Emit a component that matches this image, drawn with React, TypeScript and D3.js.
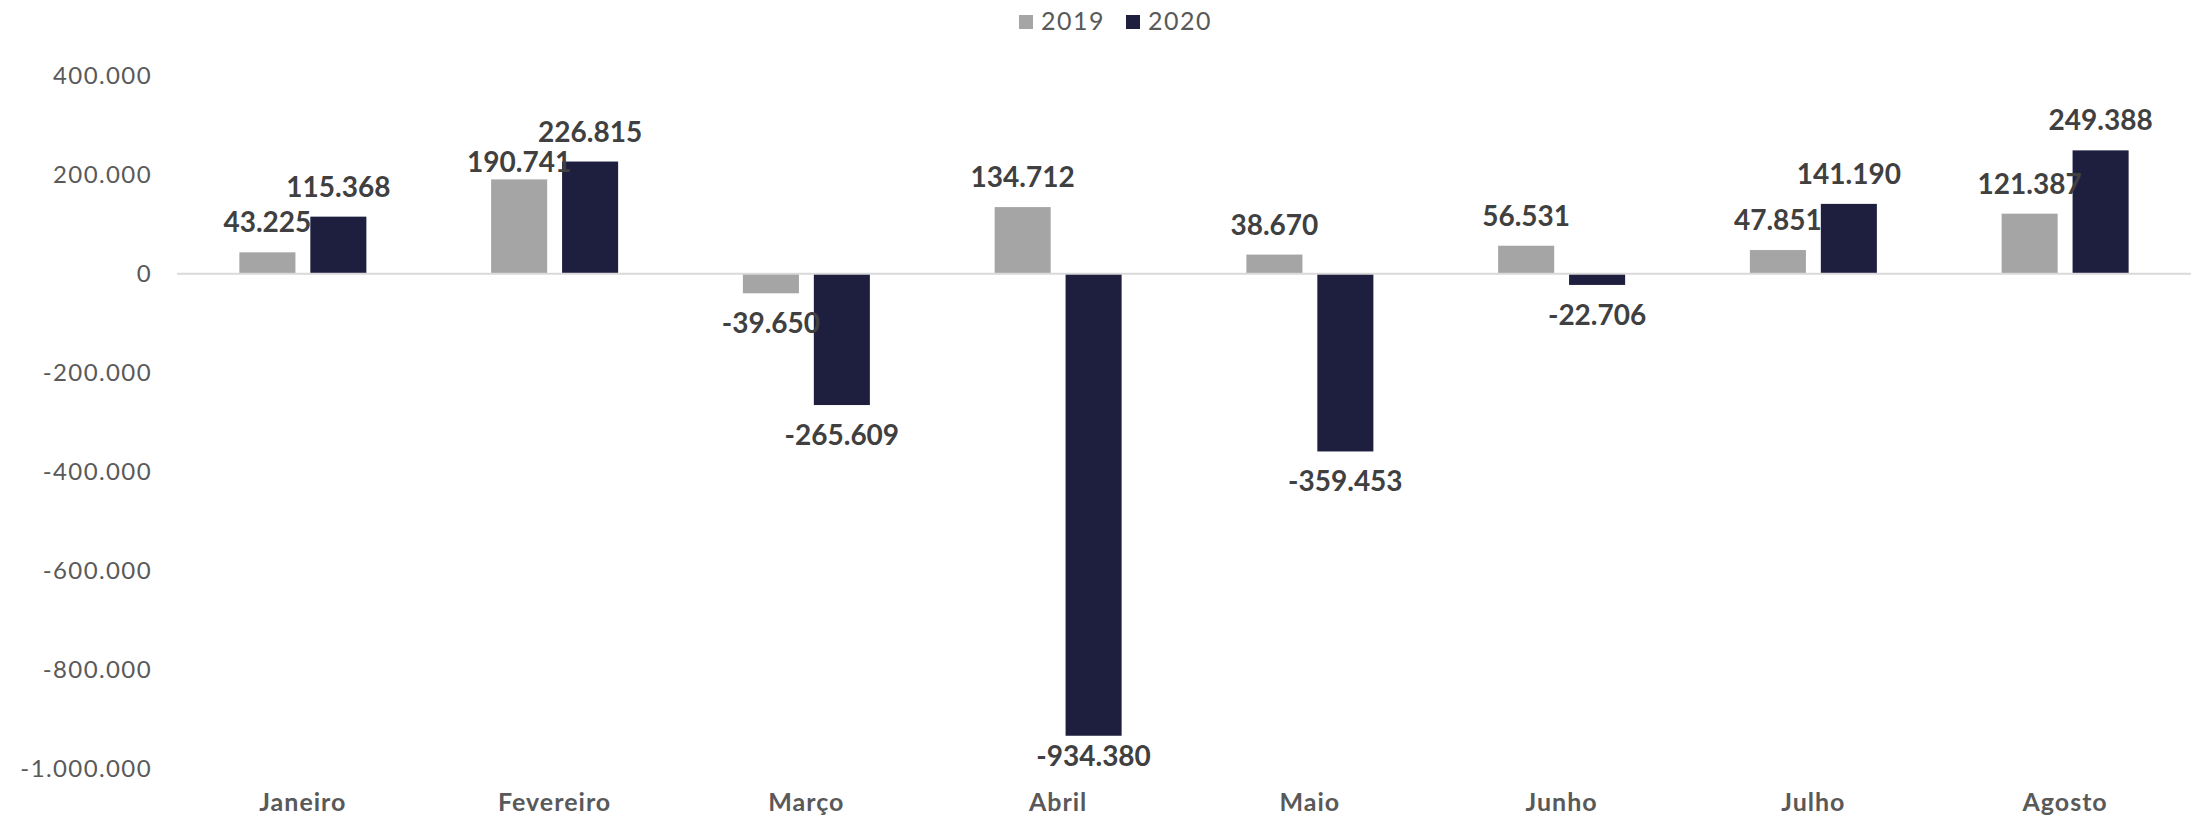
import React from "react";
import * as d3 from "d3";

const categories = ["Janeiro", "Fevereiro", "Março", "Abril", "Maio", "Junho", "Julho", "Agosto"];
const series = ["2019", "2020"];
const values2019 = [43225, 190741, -39650, 134712, 38670, 56531, 47851, 121387];
const values2020 = [115368, 226815, -265609, -934380, -359453, -22706, 141190, 249388];
const yTicks = [400000, 200000, 0, -200000, -400000, -600000, -800000, -1000000];
const colors = ["#A5A5A5", "#1E1F3F"];

const W = 2193;
const H = 817;
const FONT = "Lato, 'Noto Sans', sans-serif";

const fmt = (v: number) => {
  const s = d3.format(",")(Math.abs(v)).replace(/,/g, ".");
  return v < 0 ? "-" + s : s;
};

export default function App() {
  const x = d3.scaleBand<string>().domain(categories).range([177, 2191]).paddingInner(0).paddingOuter(0);
  const y = d3.scaleLinear().domain([-1000000, 400000]).range([768.2, 75.9]);
  const groupW = 127;
  const x1 = d3.scaleBand<string>().domain(series).range([0, groupW]).paddingInner(0.21);
  const data = [values2019, values2020];

  const labelY = (si: number, i: number) => {
    const v = data[si][i];
    if (v < 0) return Math.min(y(v) + 40, 766);
    let ly = y(v) - 20;
    if (si === 0) {
      const other = data[1][i];
      if (other >= 0) {
        const oy = y(other) - 20;
        if (Math.abs(oy - ly) < 30) ly = y(v) - 7.5;
      }
    }
    return ly;
  };

  return (
    <svg width={W} height={H} style={{ position: "absolute", left: 0, top: 0, background: "#fff" }} fontFamily={FONT}>
      {/* legend */}
      <g>
        <rect x={1019} y={15} width={14} height={14} fill={colors[0]} />
        <text x={1041} y={29.5} fontSize={25} letterSpacing={1.5} fill="#595959">{series[0]}</text>
        <rect x={1126} y={15} width={14} height={14} fill={colors[1]} />
        <text x={1148} y={29.5} fontSize={25} letterSpacing={1.5} fill="#595959">{series[1]}</text>
      </g>
      {/* y axis labels */}
      {yTicks.map((t) => (
        <text key={t} x={152} y={y(t)} dy="0.35em" textAnchor="end" fontSize={24} letterSpacing={1.4} fill="#595959">
          {fmt(t)}
        </text>
      ))}
      {/* bars */}
      {categories.map((c, i) => {
        const gx = (x(c) as number) + (x.bandwidth() - groupW) / 2;
        return (
          <g key={c}>
            {series.map((s, si) => {
              const v = data[si][i];
              const bx = gx + (x1(s) as number);
              const y0 = y(0);
              const yv = y(v);
              return (
                <rect key={s} x={bx} y={Math.min(y0, yv)} width={x1.bandwidth()} height={Math.abs(yv - y0)} fill={colors[si]} />
              );
            })}
          </g>
        );
      })}
      {/* zero line */}
      <line x1={177} x2={2191} y1={y(0)} y2={y(0)} stroke="#D9D9D9" strokeWidth={2} />
      {/* value labels */}
      {categories.map((c, i) => {
        const gx = (x(c) as number) + (x.bandwidth() - groupW) / 2;
        return series.map((s, si) => {
          const v = data[si][i];
          const cx = gx + (x1(s) as number) + x1.bandwidth() / 2;
          return (
            <text key={c + s} x={cx} y={labelY(si, i)} textAnchor="middle" fontSize={28} fontWeight={700} fill="#404040">
              {fmt(v)}
            </text>
          );
        });
      })}
      {/* x labels */}
      {categories.map((c) => (
        <text key={c} x={(x(c) as number) + x.bandwidth() / 2} y={811} textAnchor="middle" fontSize={25} letterSpacing={1} fontWeight={700} fill="#595959">
          {c}
        </text>
      ))}
    </svg>
  );
}
